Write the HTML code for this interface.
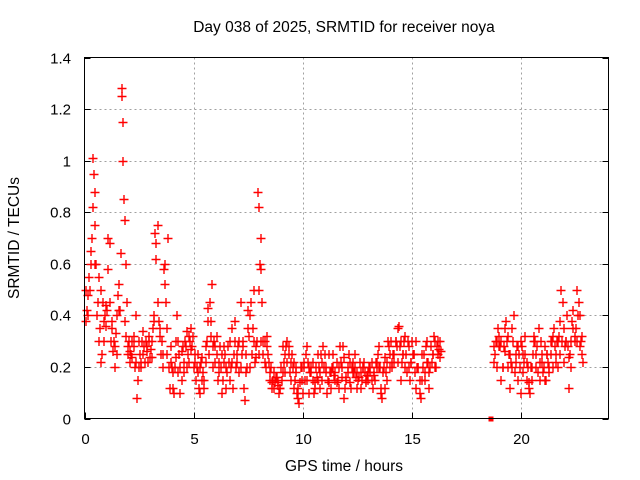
<!DOCTYPE html>
<html><head><meta charset="utf-8"><style>
html,body{margin:0;padding:0;background:#fff}
svg{display:block;font-family:"Liberation Sans",sans-serif}
</style></head><body>
<svg id="chart" width="640" height="480" viewBox="0 0 640 480" xmlns="http://www.w3.org/2000/svg">
<rect width="640" height="480" fill="#fff"/>
<text x="344" y="32" font-size="15.5" text-anchor="middle" fill="#000">Day 038 of 2025, SRMTID for receiver noya</text>
<text x="344" y="471" font-size="15.5" text-anchor="middle" fill="#000">GPS time / hours</text>
<text transform="translate(19,238) rotate(-90)" font-size="15.5" text-anchor="middle" fill="#000">SRMTID / TECUs</text>
<g id="grid"></g><g id="ticks"></g><g id="marks"></g>
<rect x="84.5" y="57.5" width="524" height="361" fill="none" stroke="#000" stroke-width="1"/>
</svg>
<script>
const xTicks=[0,5,10,15,20];
const yTicks=[0,0.2,0.4,0.6,0.8,1,1.2,1.4];
const yTickLabels=["0","0.2","0.4","0.6","0.8","1","1.2","1.4"];
const hoursA=[0.0,0.1,0.2,0.3,0.35,0.4,0.45,0.5,0.6,0.7,0.8,0.9,1.0,1.1,1.2,1.3,1.4,1.5,1.6,1.65,1.67,1.7,1.72,1.75,1.8,1.85,1.9,2.0,2.1,2.2,2.3,2.4,2.5,2.6,2.7,2.8,2.9,3.0,3.1,3.2,3.3,3.4,3.5,3.6,3.7,3.8,3.9,4.0,4.1,4.2,4.3,4.4,4.5,4.6,4.7,4.8,4.9,5.0,5.1,5.2,5.3,5.4,5.5,5.6,5.7,5.8,5.9,6.0,6.1,6.2,6.3,6.4,6.5,6.6,6.7,6.8,6.9,7.0,7.1,7.2,7.3,7.4,7.5,7.6,7.7,7.8,7.9,7.95,8.0,8.05,8.1,8.2,8.3,8.4,8.5,8.6,8.7,8.8,8.9,9.0,9.1,9.2,9.3,9.4,9.5,9.6,9.7,9.8,9.9,10.0,10.1,10.2,10.3,10.4,10.5,10.6,10.7,10.8,10.9,11.0,11.1,11.2,11.3,11.4,11.5,11.6,11.7,11.8,11.9,12.0,12.1,12.2,12.3,12.4,12.5,12.6,12.7,12.8,12.9,13.0,13.1,13.2,13.3,13.4,13.5,13.6,13.7,13.8,13.9,14.0,14.1,14.2,14.3,14.4,14.5,14.6,14.7,14.8,14.9,15.0,15.1,15.2,15.3,15.4,15.5,15.6,15.7,15.8,15.9,16.0,16.1,16.2,16.3,18.7,18.8,18.9,19.0,19.1,19.2,19.3,19.4,19.5,19.6,19.7,19.8,19.9,20.0,20.1,20.2,20.3,20.4,20.5,20.6,20.7,20.8,20.9,21.0,21.1,21.2,21.3,21.4,21.5,21.6,21.7,21.8,21.9,22.0,22.1,22.2,22.3,22.4,22.5,22.6,22.7,22.8];
const srmtidA=[0.5,0.4,0.5,0.7,1.01,0.95,0.88,0.6,0.55,0.5,0.45,0.4,0.42,0.68,0.35,0.3,0.33,0.48,0.42,1.28,1.25,1.15,1.0,0.85,0.77,0.6,0.45,0.3,0.25,0.28,0.4,0.15,0.25,0.3,0.28,0.26,0.3,0.27,0.35,0.72,0.75,0.35,0.3,0.58,0.45,0.7,0.28,0.12,0.2,0.4,0.25,0.15,0.22,0.28,0.25,0.3,0.28,0.25,0.2,0.12,0.22,0.18,0.28,0.38,0.45,0.52,0.3,0.25,0.22,0.2,0.15,0.25,0.18,0.3,0.35,0.25,0.2,0.28,0.45,0.3,0.07,0.2,0.32,0.45,0.5,0.28,0.88,0.82,0.6,0.7,0.45,0.3,0.28,0.22,0.2,0.15,0.14,0.13,0.12,0.15,0.22,0.28,0.25,0.22,0.2,0.15,0.1,0.06,0.15,0.2,0.25,0.22,0.18,0.15,0.14,0.16,0.2,0.25,0.28,0.18,0.15,0.18,0.2,0.17,0.14,0.2,0.22,0.28,0.12,0.2,0.22,0.2,0.18,0.16,0.15,0.18,0.2,0.18,0.17,0.2,0.15,0.18,0.22,0.25,0.2,0.08,0.12,0.22,0.28,0.3,0.25,0.3,0.35,0.28,0.22,0.3,0.25,0.2,0.22,0.25,0.18,0.2,0.1,0.15,0.25,0.28,0.22,0.2,0.25,0.3,0.28,0.27,0.26,0.22,0.3,0.35,0.28,0.2,0.35,0.3,0.25,0.22,0.3,0.25,0.15,0.2,0.28,0.22,0.15,0.12,0.2,0.25,0.3,0.28,0.22,0.25,0.2,0.15,0.22,0.25,0.2,0.28,0.3,0.32,0.5,0.35,0.3,0.28,0.25,0.38,0.3,0.5,0.45,0.3,0.22];
const hoursB=[0.05,0.15,0.25,0.45,0.55,0.65,0.75,0.85,0.95,1.05,1.15,1.25,1.35,1.45,1.55,1.85,1.95,2.05,2.15,2.25,2.35,2.45,2.55,2.65,2.75,2.85,2.95,3.05,3.15,3.25,3.35,3.45,3.55,3.65,3.75,3.85,3.95,4.05,4.15,4.25,4.35,4.45,4.55,4.65,4.75,4.85,4.95,5.05,5.15,5.25,5.35,5.45,5.55,5.65,5.75,5.85,5.95,6.05,6.15,6.25,6.35,6.45,6.55,6.65,6.75,6.85,6.95,7.05,7.15,7.25,7.35,7.45,7.55,7.65,7.75,7.85,7.95,8.05,8.15,8.25,8.35,8.45,8.55,8.65,8.75,8.85,8.95,9.05,9.15,9.25,9.35,9.45,9.55,9.65,9.75,9.85,9.95,10.05,10.15,10.25,10.35,10.45,10.55,10.65,10.75,10.85,10.95,11.05,11.15,11.25,11.35,11.45,11.55,11.65,11.75,11.85,11.95,12.05,12.15,12.25,12.35,12.45,12.55,12.65,12.75,12.85,12.95,13.05,13.15,13.25,13.35,13.45,13.55,13.65,13.75,13.85,13.95,14.05,14.15,14.25,14.35,14.45,14.55,14.65,14.75,14.85,14.95,15.05,15.15,15.25,15.35,15.45,15.55,15.65,15.75,15.85,15.95,16.05,16.15,16.25,18.75,18.85,18.95,19.05,19.15,19.25,19.35,19.45,19.55,19.65,19.75,19.85,19.95,20.05,20.15,20.25,20.35,20.45,20.55,20.65,20.75,20.85,20.95,21.05,21.15,21.25,21.35,21.45,21.55,21.65,21.75,21.85,21.95,22.05,22.15,22.25,22.35,22.45,22.55,22.65,22.75];
const srmtidB=[0.42,0.55,0.6,0.75,0.45,0.35,0.25,0.3,0.36,0.7,0.3,0.26,0.2,0.4,0.42,0.32,0.25,0.22,0.3,0.2,0.08,0.2,0.22,0.25,0.3,0.22,0.24,0.3,0.4,0.62,0.38,0.25,0.2,0.52,0.35,0.12,0.2,0.1,0.3,0.18,0.1,0.28,0.3,0.2,0.32,0.35,0.2,0.15,0.25,0.1,0.15,0.12,0.3,0.25,0.38,0.2,0.28,0.15,0.28,0.1,0.22,0.12,0.22,0.2,0.12,0.3,0.22,0.18,0.25,0.12,0.25,0.42,0.2,0.35,0.22,0.3,0.25,0.58,0.3,0.2,0.25,0.15,0.12,0.18,0.16,0.1,0.2,0.28,0.18,0.3,0.18,0.25,0.12,0.2,0.08,0.2,0.1,0.15,0.28,0.1,0.2,0.1,0.2,0.15,0.12,0.22,0.25,0.1,0.25,0.12,0.2,0.18,0.15,0.28,0.16,0.08,0.15,0.25,0.12,0.22,0.2,0.12,0.22,0.15,0.22,0.14,0.15,0.2,0.12,0.15,0.2,0.28,0.1,0.2,0.18,0.3,0.2,0.2,0.22,0.28,0.36,0.15,0.25,0.2,0.3,0.15,0.3,0.25,0.12,0.2,0.08,0.2,0.15,0.3,0.18,0.22,0.32,0.2,0.25,0.3,0.25,0.2,0.32,0.15,0.28,0.38,0.2,0.12,0.35,0.18,0.28,0.25,0.1,0.18,0.25,0.2,0.1,0.15,0.32,0.2,0.35,0.3,0.18,0.15,0.25,0.18,0.3,0.35,0.25,0.3,0.38,0.45,0.28,0.4,0.12,0.2,0.42,0.35,0.4,0.28,0.25];
const hoursC=[0.03,0.13,0.23,0.33,0.43,0.53,0.63,0.73,0.83,0.93,1.03,1.13,1.23,1.33,1.43,1.53,1.63,1.83,1.93,2.03,2.13,2.23,2.33,2.43,2.53,2.63,2.73,2.83,2.93,3.03,3.13,3.23,3.33,3.43,3.53,3.63,3.73,3.83,3.93,4.03,4.13,4.23,4.33,4.43,4.53,4.63,4.73,4.83,4.93,5.03,5.13,5.23,5.33,5.43,5.53,5.63,5.73,5.83,5.93,6.03,6.13,6.23,6.33,6.43,6.53,6.63,6.73,6.83,6.93,7.03,7.13,7.23,7.33,7.43,7.53,7.63,7.73,7.83,7.93,8.03,8.13,8.23,8.33,8.43,8.53,8.63,8.73,8.83,8.93,9.03,9.13,9.23,9.33,9.43,9.53,9.63,9.73,9.83,9.93,10.03,10.13,10.23,10.33,10.43,10.53,10.63,10.73,10.83,10.93,11.03,11.13,11.23,11.33,11.43,11.53,11.63,11.73,11.83,11.93,12.03,12.13,12.23,12.33,12.43,12.53,12.63,12.73,12.83,12.93,13.03,13.13,13.23,13.33,13.43,13.53,13.63,13.73,13.83,13.93,14.03,14.13,14.23,14.33,14.43,14.53,14.63,14.73,14.83,14.93,15.03,15.13,15.23,15.33,15.43,15.53,15.63,15.73,15.83,15.93,16.03,16.13,16.23,18.73,18.83,18.93,19.03,19.13,19.23,19.33,19.43,19.53,19.63,19.73,19.83,19.93,20.03,20.13,20.23,20.33,20.43,20.53,20.63,20.73,20.83,20.93,21.03,21.13,21.23,21.33,21.43,21.53,21.63,21.73,21.83,21.93,22.03,22.13,22.23,22.33,22.43,22.53,22.63,22.73];
const srmtidC=[0.38,0.48,0.65,0.82,0.6,0.4,0.3,0.22,0.38,0.44,0.58,0.45,0.38,0.28,0.25,0.52,0.64,0.38,0.28,0.26,0.24,0.32,0.22,0.3,0.2,0.34,0.22,0.28,0.32,0.24,0.38,0.68,0.45,0.32,0.25,0.6,0.25,0.2,0.22,0.18,0.24,0.3,0.2,0.26,0.18,0.34,0.22,0.27,0.32,0.22,0.18,0.2,0.24,0.15,0.22,0.43,0.32,0.28,0.22,0.32,0.18,0.25,0.28,0.2,0.28,0.15,0.22,0.38,0.25,0.3,0.2,0.28,0.18,0.35,0.4,0.25,0.3,0.24,0.5,0.3,0.25,0.22,0.32,0.18,0.14,0.12,0.16,0.14,0.12,0.18,0.25,0.22,0.28,0.15,0.22,0.18,0.12,0.14,0.2,0.22,0.15,0.2,0.18,0.22,0.12,0.25,0.18,0.15,0.2,0.2,0.14,0.18,0.25,0.15,0.22,0.12,0.2,0.24,0.16,0.18,0.14,0.18,0.25,0.18,0.16,0.12,0.2,0.15,0.18,0.18,0.22,0.17,0.22,0.2,0.12,0.18,0.24,0.15,0.25,0.22,0.25,0.3,0.22,0.3,0.25,0.32,0.18,0.28,0.22,0.25,0.3,0.2,0.15,0.25,0.18,0.22,0.12,0.28,0.25,0.2,0.3,0.24,0.28,0.3,0.28,0.3,0.2,0.26,0.32,0.25,0.2,0.4,0.22,0.28,0.3,0.25,0.32,0.22,0.14,0.2,0.3,0.25,0.18,0.15,0.22,0.28,0.25,0.2,0.3,0.32,0.22,0.2,0.25,0.3,0.22,0.3,0.24,0.3,0.35,0.32,0.3,0.4,0.32,0.35,0.3,0.45,0.35,0.32,0.28];
const hoursFlag=[18.6];
const srmtidFlag=[0];
const NS='http://www.w3.org/2000/svg';
const X0=84.5,X1=608.5,Y0=418.5,Y1=57.5;
function xs(h){return X0+(h/24)*(X1-X0);}
function ys(v){return Y0-(v/1.4)*(Y0-Y1);}
function el(tag,attrs,parent){const e=document.createElementNS(NS,tag);for(const k in attrs)e.setAttribute(k,attrs[k]);parent.appendChild(e);return e;}
const grid=document.getElementById('grid'),ticks=document.getElementById('ticks'),marks=document.getElementById('marks');
xTicks.forEach((t)=>{const x=Math.round(xs(t))+0.5;
 if(t>0){const g=el('line',{x1:x,x2:x,y1:Y1,y2:Y0,stroke:'#a0a0a0','stroke-dasharray':'2,3'},grid);
 
 }
 const tk=el('line',{x1:x,x2:x,y1:Y0,y2:Y0-6,stroke:'#000'},ticks);
 
 
 const tx=el('text',{x:x,y:444,'font-size':15,'text-anchor':'middle',fill:'#000'},ticks);tx.textContent=String(t);
 
 
});
yTicks.forEach((t,i)=>{const y=Math.round(ys(t))+0.5;
 if(t>0&&t<1.4){const g=el('line',{x1:X0,x2:X1,y1:y,y2:y,stroke:'#a0a0a0','stroke-dasharray':'2,3'},grid);
 
 }
 const tk=el('path',{d:`M${X0},${y}h6M${X1},${y}h-6`,stroke:'#000'},ticks);
 
 
 const tx=el('text',{x:71,y:y+5,'font-size':15,'text-anchor':'end',fill:'#000'},ticks);tx.textContent=yTickLabels[i];
 
 
});
function plus(h,v,name){const x=Math.round(xs(h))+0.5,y=Math.round(ys(v))+0.5;
 const p=el('path',{d:`M${x-4},${y}h9M${x+0.5},${y-4.5}v9`,stroke:'#ff0000','stroke-width':1.4,fill:'none'},marks);
 
 }
hoursC.forEach((h,i)=>plus(h,srmtidC[i],'srmtid-point'));
hoursB.forEach((h,i)=>plus(h,srmtidB[i],'srmtid-point'));
hoursA.forEach((h,i)=>plus(h,srmtidA[i],'srmtid-point'));
hoursFlag.forEach((h,i)=>{const r=el('rect',{x:Math.round(xs(h))-2.5,y:Math.round(ys(srmtidFlag[i]))-2.5,width:5,height:5,fill:'#ff0000'},marks);
 
 });
</script>
</body></html>
